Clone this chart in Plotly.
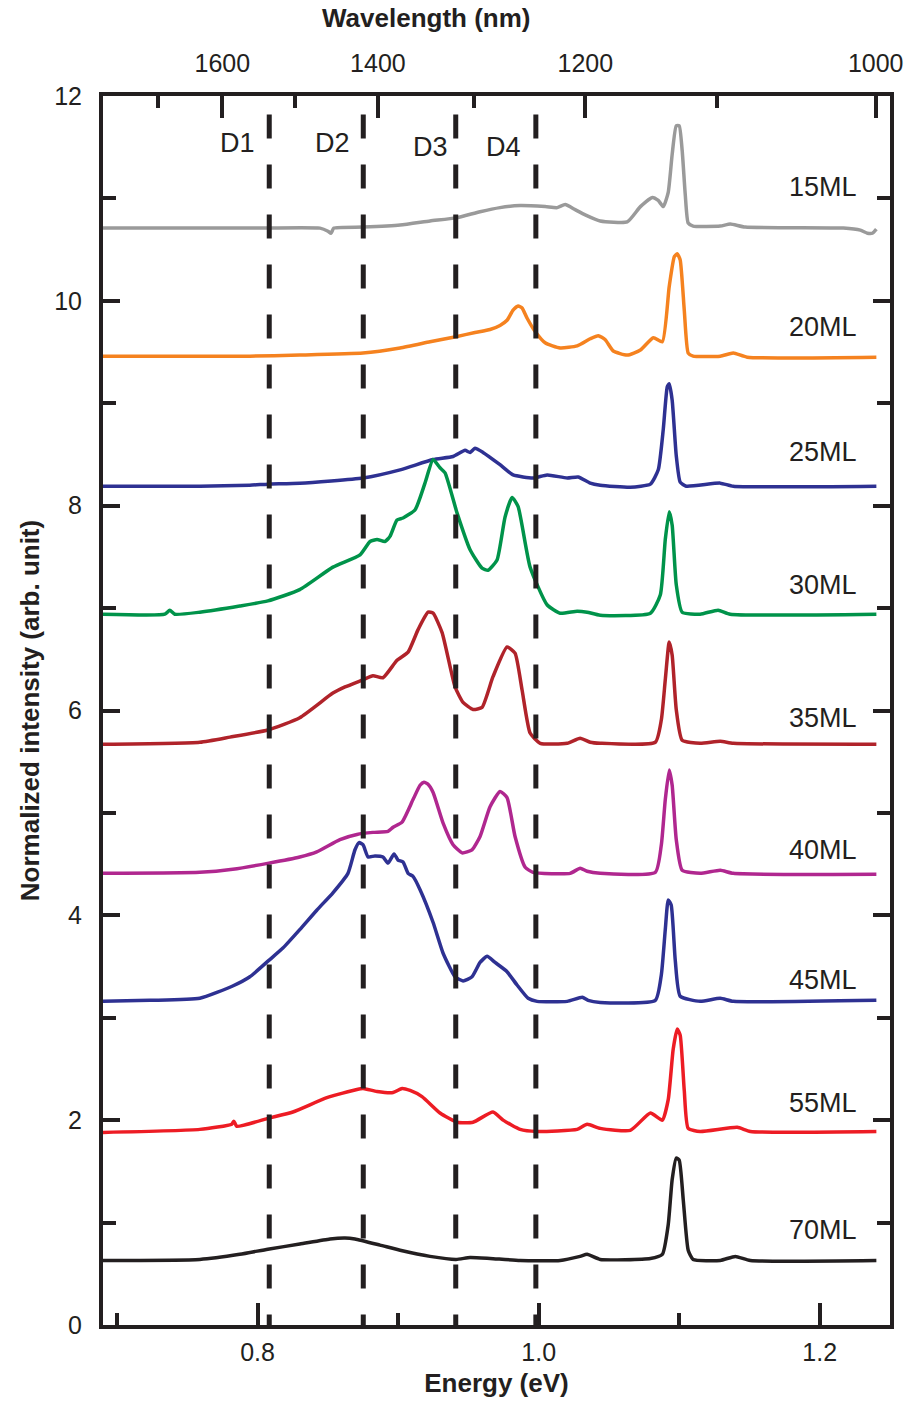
import plotly.graph_objects as go

# ---------------- data (energy in eV, normalized intensity) ----------------
e_15 = [0.690, 0.7945, 0.8444, 0.8501, 0.8522, 0.8543, 0.875, 0.9014, 0.9227, 0.9412, 0.9583, 0.9725, 0.9868,
        1.0046, 1.0132, 1.0189, 1.0260, 1.0331, 1.0438, 1.0630, 1.0724, 1.0809, 1.0851, 1.0887, 1.0922, 1.0950,
        1.0979, 1.1000, 1.1021, 1.1043, 1.1064, 1.1099, 1.1292, 1.1363, 1.1470, 1.2168, 1.2289, 1.2339, 1.2375, 1.2403]
i_15 = [10.71, 10.71, 10.71, 10.68, 10.66, 10.71, 10.72, 10.74, 10.78, 10.81, 10.87, 10.91, 10.93,
        10.92, 10.91, 10.94, 10.89, 10.84, 10.78, 10.77, 10.92, 11.01, 10.98, 10.92, 11.06, 11.43,
        11.71, 11.71, 11.47, 11.04, 10.76, 10.73, 10.73, 10.75, 10.72, 10.71, 10.69, 10.66, 10.66, 10.70]

e_20 = [0.690, 0.7945, 0.830, 0.875, 0.9014, 0.9227, 0.9412, 0.9547, 0.9654, 0.9725, 0.9775, 0.9818, 0.9854,
        0.9882, 0.9918, 0.9975, 1.0046, 1.0153, 1.0274, 1.0367, 1.0424, 1.0474, 1.0531, 1.0630, 1.0724, 1.0816,
        1.0880, 1.0929, 1.0965, 1.0986, 1.1007, 1.1036, 1.1064, 1.1099, 1.1292, 1.1385, 1.1484, 1.2403]
i_20 = [9.46, 9.46, 9.47, 9.49, 9.54, 9.60, 9.65, 9.69, 9.72, 9.76, 9.81, 9.91, 9.95,
        9.93, 9.83, 9.70, 9.59, 9.54, 9.56, 9.63, 9.66, 9.62, 9.51, 9.47, 9.52, 9.64,
        9.60, 10.14, 10.43, 10.46, 10.40, 9.91, 9.49, 9.46, 9.46, 9.49, 9.45, 9.45]

e_25 = [0.690, 0.7589, 0.7945, 0.8073, 0.830, 0.875, 0.9014, 0.9249, 0.9391, 0.9476, 0.9512, 0.9547, 0.9604,
        0.9725, 0.9818, 0.9960, 1.0061, 1.0203, 1.0281, 1.0367, 1.0438, 1.0652, 1.0795, 1.0851, 1.0887, 1.0915,
        1.0929, 1.0950, 1.0979, 1.1007, 1.1050, 1.1292, 1.1385, 1.2403]
i_25 = [8.19, 8.19, 8.20, 8.21, 8.22, 8.27, 8.35, 8.45, 8.48, 8.54, 8.52, 8.56, 8.52,
        8.40, 8.30, 8.27, 8.30, 8.27, 8.28, 8.22, 8.20, 8.18, 8.21, 8.35, 8.75, 9.16,
        9.19, 9.03, 8.49, 8.23, 8.19, 8.22, 8.19, 8.19]

e_30 = [0.690, 0.7340, 0.7375, 0.7411, 0.7589, 0.7873, 0.8073, 0.830, 0.8536, 0.8729, 0.8800, 0.8850, 0.8906,
        0.8942, 0.8992, 0.9035, 0.9121, 0.9191, 0.9249, 0.9298, 0.9334, 0.9419, 0.9512, 0.9597, 0.9640, 0.9704,
        0.9761, 0.9811, 0.9854, 0.9939, 1.0061, 1.0153, 1.0274, 1.0345, 1.0438, 1.0795, 1.0866, 1.0901, 1.0929,
        1.0950, 1.0979, 1.1021, 1.1149, 1.1277, 1.1363, 1.2403]
i_30 = [6.94, 6.94, 6.98, 6.94, 6.96, 7.02, 7.07, 7.18, 7.40, 7.52, 7.65, 7.67, 7.65,
        7.70, 7.86, 7.88, 7.96, 8.22, 8.45, 8.37, 8.32, 7.93, 7.57, 7.39, 7.37, 7.47,
        7.89, 8.08, 7.99, 7.40, 7.03, 6.95, 6.97, 6.96, 6.93, 6.95, 7.13, 7.67, 7.94,
        7.81, 7.23, 6.96, 6.94, 6.98, 6.94, 6.94]

e_35 = [0.690, 0.7589, 0.7803, 0.8073, 0.830, 0.8536, 0.8622, 0.875, 0.8821, 0.8892, 0.8992, 0.9071, 0.9142,
        0.9213, 0.9249, 0.9313, 0.9405, 0.9462, 0.9533, 0.9597, 0.9675, 0.9775, 0.9832, 0.9882, 0.9939, 1.0011,
        1.0203, 1.0295, 1.0367, 1.0438, 1.0830, 1.0873, 1.0901, 1.0929, 1.0950, 1.0979, 1.1021, 1.1149, 1.1292,
        1.1385, 1.2403]
i_35 = [5.67, 5.69, 5.74, 5.81, 5.93, 6.17, 6.23, 6.30, 6.34, 6.32, 6.49, 6.57, 6.79,
        6.96, 6.95, 6.76, 6.23, 6.08, 6.01, 6.03, 6.33, 6.62, 6.56, 6.20, 5.78, 5.68,
        5.68, 5.73, 5.69, 5.68, 5.69, 5.91, 6.30, 6.67, 6.54, 6.01, 5.71, 5.68, 5.70,
        5.68, 5.67]

e_40 = [0.690, 0.7589, 0.7823, 0.8080, 0.830, 0.8421, 0.8586, 0.8707, 0.8821, 0.8928, 0.8964, 0.9028, 0.9106,
        0.9156, 0.9184, 0.9213, 0.9249, 0.9320, 0.9391, 0.9455, 0.9526, 0.9583, 0.9654, 0.9725, 0.9775, 0.9832,
        0.9904, 0.9960, 1.0224, 1.0295, 1.0345, 1.0438, 1.0830, 1.0873, 1.0901, 1.0929, 1.0950, 1.0979, 1.1021,
        1.1149, 1.1292, 1.1385, 1.2403]
i_40 = [4.41, 4.42, 4.45, 4.51, 4.57, 4.62, 4.74, 4.79, 4.81, 4.82, 4.86, 4.91, 5.13,
        5.27, 5.30, 5.28, 5.20, 4.90, 4.69, 4.61, 4.64, 4.77, 5.06, 5.21, 5.15, 4.77,
        4.47, 4.42, 4.41, 4.46, 4.43, 4.41, 4.42, 4.69, 5.13, 5.42, 5.27, 4.74, 4.44,
        4.41, 4.44, 4.41, 4.40]

e_45 = [0.690, 0.7233, 0.7589, 0.7823, 0.7945, 0.8080, 0.8180, 0.830, 0.8421, 0.8536, 0.8643, 0.8693, 0.8722,
        0.875, 0.8786, 0.8835, 0.8892, 0.8928, 0.8971, 0.8999, 0.9035, 0.9071, 0.9106, 0.9156, 0.9249, 0.9320,
        0.9405, 0.9462, 0.9526, 0.9583, 0.9633, 0.9690, 0.9775, 0.9846, 0.9925, 0.9989, 1.0203, 1.0310, 1.0352,
        1.0438, 1.0830, 1.0873, 1.0901, 1.0922, 1.0943, 1.0972, 1.1007, 1.1149, 1.1292, 1.1385, 1.2403]
i_45 = [3.16, 3.17, 3.19, 3.31, 3.40, 3.56, 3.68, 3.86, 4.05, 4.22, 4.41, 4.64, 4.71,
        4.69, 4.57, 4.58, 4.57, 4.51, 4.60, 4.54, 4.52, 4.41, 4.38, 4.25, 3.93, 3.63,
        3.40, 3.36, 3.40, 3.54, 3.60, 3.54, 3.45, 3.32, 3.19, 3.16, 3.16, 3.20, 3.17,
        3.15, 3.17, 3.42, 3.86, 4.15, 4.10, 3.56, 3.21, 3.16, 3.19, 3.16, 3.17]

e_55 = [0.690, 0.7589, 0.7816, 0.7831, 0.7852, 0.8080, 0.8251, 0.8493, 0.8707, 0.875, 0.8850, 0.8964, 0.9028,
        0.9085, 0.9170, 0.9298, 0.9419, 0.9533, 0.9675, 0.9747, 0.9868, 0.9989, 1.0274, 1.0345, 1.0438, 1.0652,
        1.0795, 1.0880, 1.0922, 1.0957, 1.0986, 1.1007, 1.1036, 1.1064, 1.1149, 1.1413, 1.1506, 1.2403]
i_55 = [1.88, 1.91, 1.96, 1.99, 1.94, 2.02, 2.08, 2.22, 2.30, 2.31, 2.28, 2.27, 2.31,
        2.29, 2.23, 2.07, 1.98, 1.98, 2.08, 2.00, 1.91, 1.89, 1.91, 1.96, 1.92, 1.90,
        2.07, 2.00, 2.20, 2.69, 2.89, 2.83, 2.29, 1.92, 1.89, 1.93, 1.89, 1.89]

e_70 = [0.690, 0.7589, 0.7873, 0.8073, 0.830, 0.8515, 0.8622, 0.8693, 0.8871, 0.9014, 0.9227, 0.9412, 0.9512,
        0.9654, 0.9868, 1.0153, 1.0295, 1.0345, 1.0438, 1.0795, 1.0880, 1.0922, 1.0950, 1.0979, 1.1000, 1.1029,
        1.1064, 1.1099, 1.1292, 1.1399, 1.1506, 1.2403]
i_70 = [0.63, 0.64, 0.69, 0.74, 0.79, 0.84, 0.85, 0.84, 0.78, 0.73, 0.67, 0.64, 0.66,
        0.65, 0.63, 0.63, 0.67, 0.69, 0.64, 0.65, 0.69, 0.98, 1.42, 1.63, 1.61, 1.22,
        0.73, 0.64, 0.63, 0.67, 0.63, 0.63]

series_names = ["15ML", "20ML", "25ML", "30ML", "35ML", "40ML", "45ML", "55ML", "70ML"]
series_e = [e_15, e_20, e_25, e_30, e_35, e_40, e_45, e_55, e_70]
series_i = [i_15, i_20, i_25, i_30, i_35, i_40, i_45, i_55, i_70]
series_colors = ["#9a9a9a", "#f5821f", "#2e3192", "#00934a", "#b0232a", "#b0278f", "#2e3192", "#ed1c24", "#231f20"]
label_y = [11.11, 9.74, 8.52, 7.23, 5.93, 4.64, 3.37, 2.17, 0.93]

dline_names = ["D1", "D2", "D3", "D4"]
dline_e = [0.8083, 0.8752, 0.9410, 0.9980]
dlabel_e = [0.786, 0.853, 0.9227, 0.9747]
dlabel_y = [11.54, 11.54, 11.50, 11.50]

x_range = [0.69, 1.25]
y_range = [0, 12]
wl_major = [1600, 1400, 1200, 1000]
wl_minor = [1700, 1500, 1300, 1100]
HC = 1239.84  # eV*nm

INK = "#231f20"
TICKFONT = dict(family="Liberation Sans, Arial", size=25, color=INK)
LABELFONT = dict(family="Liberation Sans, Arial", size=27, color=INK)
TITLEFONT = dict(family="Liberation Sans, Arial", size=26, color=INK)

fig = go.Figure()
for name, ex, iy, col in zip(series_names, series_e, series_i, series_colors):
    fig.add_trace(go.Scatter(x=ex, y=iy, mode="lines", name=name,
                             line=dict(color=col, width=3.5, shape="spline", smoothing=0.5),
                             showlegend=False))
# empty trace to anchor the top wavelength axis
fig.add_trace(go.Scatter(x=[], y=[], xaxis="x2", yaxis="y", showlegend=False))

for name, ey in zip(series_names, label_y):
    fig.add_annotation(x=1.228, y=ey, text=name, showarrow=False, xanchor="right", yanchor="middle",
                       font=LABELFONT)

for xe in dline_e:
    fig.add_shape(type="line", xref="x", yref="y", x0=xe, x1=xe, y0=11.82, y1=0,
                  line=dict(color=INK, width=5, dash="24px,26px"))
for name, xe, ye in zip(dline_names, dlabel_e, dlabel_y):
    fig.add_annotation(x=xe, y=ye, text=name, showarrow=False, xanchor="center", yanchor="middle",
                       font=LABELFONT)

# top axis title (placed left of centre as in the original)
fig.add_annotation(x=0.41, y=1.0635, xref="paper", yref="paper", text="<b>Wavelength (nm)</b>",
                   showarrow=False, xanchor="center", yanchor="middle", font=TITLEFONT)

fig.update_layout(
    width=915, height=1405,
    margin=dict(l=103, r=25, t=96, b=80),
    plot_bgcolor="white", paper_bgcolor="white",
    xaxis=dict(range=x_range, showline=True, linecolor=INK, linewidth=4, mirror=False,
               ticks="inside", ticklen=22, tickwidth=3.5, tickcolor=INK,
               tick0=0, dtick=0.2, tickformat=".1f", showgrid=False, zeroline=False,
               minor=dict(ticks="inside", ticklen=12, tickwidth=3.5, tickcolor=INK, dtick=0.1, tick0=0),
               tickfont=TICKFONT, ticklabelstandoff=2,
               title=dict(text="<b>Energy (eV)</b>", font=TITLEFONT, standoff=10)),
    xaxis2=dict(range=x_range, overlaying="x", side="top", anchor="y", showline=True, linecolor=INK,
                linewidth=4, ticks="inside", ticklen=22, tickwidth=3.5, tickcolor=INK,
                tickmode="array", tickvals=[HC / w for w in wl_major], ticktext=[str(w) for w in wl_major],
                minor=dict(ticks="inside", ticklen=12, tickwidth=3.5, tickcolor=INK,
                           tickvals=[HC / w for w in wl_minor]),
                showgrid=False, zeroline=False, tickfont=TICKFONT, ticklabelstandoff=10),
    yaxis=dict(range=y_range, showline=True, linecolor=INK, linewidth=4, mirror="ticks",
               ticks="inside", ticklen=17, tickwidth=3.5, tickcolor=INK,
               tick0=0, dtick=2, showgrid=False, zeroline=False,
               minor=dict(ticks="inside", ticklen=13, tickwidth=3.5, tickcolor=INK, dtick=1, tick0=0),
               tickfont=TICKFONT, ticklabelstandoff=12,
               title=dict(text="<b>Normalized intensity (arb. unit)</b>", font=TITLEFONT, standoff=8)),
)

fig.write_html("out.html")
